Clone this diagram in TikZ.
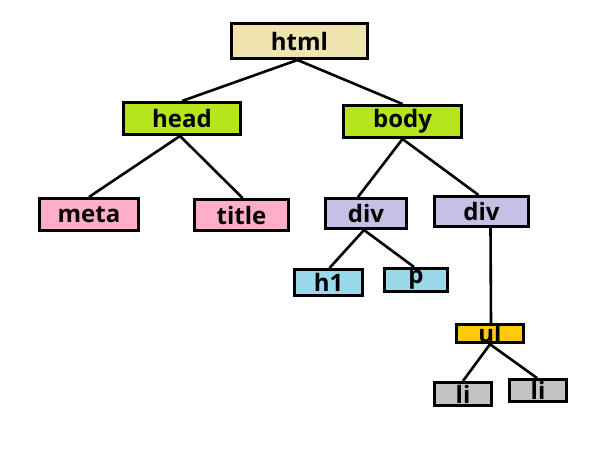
\documentclass[tikz,border=0pt]{standalone}
\usepackage{fontspec}
\setmainfont{Open Sans}
\definecolor{cream}{HTML}{EFE4B0}
\definecolor{lime}{HTML}{B5E61D}
\definecolor{pinkbox}{HTML}{FFAEC9}
\definecolor{lavender}{HTML}{C8BFE7}
\definecolor{turq}{HTML}{99D9EA}
\definecolor{gold}{HTML}{FFC90E}
\definecolor{greybox}{HTML}{C3C3C3}
\begin{document}
\begin{tikzpicture}[x=1pt,y=-1pt,
  tag/.style n args={3}{draw=black, line width=3pt, fill=#1, inner sep=0pt,
    minimum width=#2pt, minimum height=#3pt, font=\fontsize{24}{24}\selectfont\bfseries},
  link/.style={draw=black, line width=2.6pt}]
\useasboundingbox (0,0) rectangle (602,455);
\fill[white] (0,0) rectangle (602,455);
\node[tag={cream}{136}{35}] (html) at (299.5,41) {html};
\node[tag={lime}{117}{32}] (head) at (182,118.5) {head};
\node[tag={lime}{118}{32}] (body) at (402.5,121.5) {body};
\node[tag={pinkbox}{99}{32}] (meta) at (89,214.5) {meta};
\node[tag={pinkbox}{94}{31}] (title) at (241.5,215) {title};
\node[tag={lavender}{81}{30}] (div1) at (366,213.5) {div};
\node[tag={lavender}{94}{30}] (div2) at (481.5,211.5) {div};
\node[tag={turq}{68}{26}] (h1) at (328.5,282.5) {h1};
\node[tag={turq}{63}{23}] (p) at (416,280) {p};
\node[tag={gold}{67}{18}] (ul) at (490,333.5) {ul};
\node[tag={greybox}{57}{23}] (li1) at (463,394) {li};
\node[tag={greybox}{57}{22}] (li2) at (538,390.5) {li};
\draw[link] ([xshift=-2pt]html.south) -- (head.north);
\draw[link] ([xshift=-2pt]html.south) -- (body.north);
\draw[link] ([xshift=-2pt]head.south) -- (meta.north);
\draw[link] ([xshift=-2pt]head.south) -- ([xshift=1pt]title.north);
\draw[link] (body.south) -- ([xshift=-8pt]div1.north);
\draw[link] (body.south) -- ([xshift=-3pt]div2.north);
\draw[link] ([xshift=-2pt]div1.south) -- ([xshift=1pt]h1.north);
\draw[link] ([xshift=-2pt]div1.south) -- ([xshift=-2pt]p.north);
\draw[link] ([xshift=9pt]div2.south) -- ([xshift=1pt]ul.north);
\draw[link] (ul.south) -- (li1.north);
\draw[link] (ul.south) -- ([xshift=-1pt]li2.north);
\end{tikzpicture}
\end{document}
